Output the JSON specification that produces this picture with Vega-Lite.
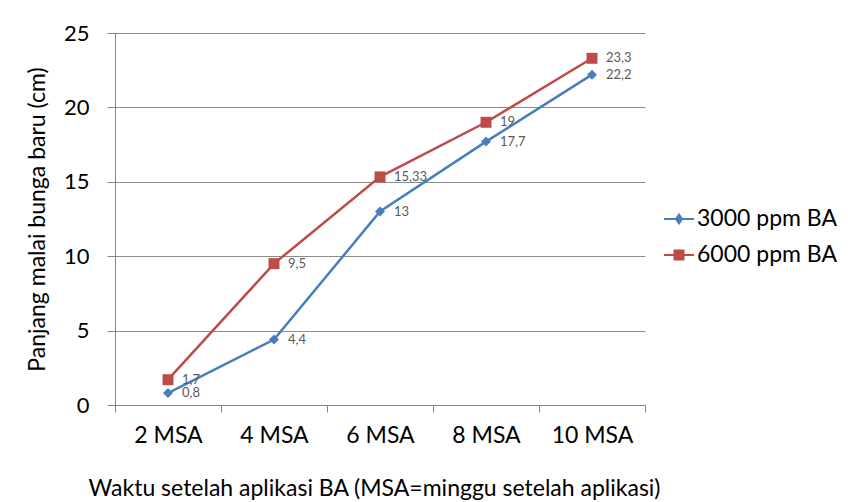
{
  "$schema": "https://vega.github.io/schema/vega-lite/v6.json",
  "width": 530,
  "height": 372,
  "autosize": {"type": "none"},
  "padding": {"left": 115, "top": 33, "right": 203, "bottom": 97},
  "background": "white",
  "config": {
    "view": {"stroke": null},
    "font": "Lato"
  },
  "data": {
    "values": [
      {"waktu": "2 MSA", "series": "3000 ppm BA", "panjang": 0.8, "label": "0,8"},
      {"waktu": "4 MSA", "series": "3000 ppm BA", "panjang": 4.4, "label": "4,4"},
      {"waktu": "6 MSA", "series": "3000 ppm BA", "panjang": 13, "label": "13"},
      {"waktu": "8 MSA", "series": "3000 ppm BA", "panjang": 17.7, "label": "17,7"},
      {"waktu": "10 MSA", "series": "3000 ppm BA", "panjang": 22.2, "label": "22,2"},
      {"waktu": "2 MSA", "series": "6000 ppm BA", "panjang": 1.7, "label": "1,7"},
      {"waktu": "4 MSA", "series": "6000 ppm BA", "panjang": 9.5, "label": "9,5"},
      {"waktu": "6 MSA", "series": "6000 ppm BA", "panjang": 15.33, "label": "15,33"},
      {"waktu": "8 MSA", "series": "6000 ppm BA", "panjang": 19, "label": "19"},
      {"waktu": "10 MSA", "series": "6000 ppm BA", "panjang": 23.3, "label": "23,3"}
    ]
  },
  "encoding": {
    "x": {
      "field": "waktu",
      "type": "nominal",
      "sort": ["2 MSA", "4 MSA", "6 MSA", "8 MSA", "10 MSA"],
      "scale": {"type": "band", "paddingInner": 0, "paddingOuter": 0},
      "axis": {
        "title": "Waktu setelah aplikasi BA (MSA=minggu setelah aplikasi)",
        "titleFontSize": 23,
        "titleFontWeight": "normal",
        "titleColor": "#000000",
        "titlePadding": 30,
        "titleX": 259,
        "labelAngle": 0,
        "labelFontSize": 23,
        "labelColor": "#000000",
        "labelPadding": 12,
        "tickBand": "extent",
        "tickSize": 7,
        "tickColor": "#868686",
        "domainColor": "#868686",
        "grid": false
      }
    },
    "y": {
      "field": "panjang",
      "type": "quantitative",
      "scale": {"domain": [0, 25], "nice": false},
      "axis": {
        "title": "Panjang malai bunga baru (cm)",
        "titleFontSize": 23,
        "titleFontWeight": "normal",
        "titleColor": "#000000",
        "titlePadding": 14,
        "values": [0, 5, 10, 15, 20, 25],
        "labelFontSize": 22,
        "labelColor": "#000000",
        "labelPadding": 18,
        "tickSize": 8,
        "tickColor": "#868686",
        "domainColor": "#868686",
        "grid": true,
        "gridColor": "#8c8c8c",
        "gridWidth": 1
      }
    },
    "color": {
      "field": "series",
      "type": "nominal",
      "scale": {"domain": ["3000 ppm BA", "6000 ppm BA"], "range": ["#4A7EBB", "#BE4B48"]},
      "legend": {
        "title": null,
        "orient": "none",
        "legendX": 548,
        "legendY": 170,
        "labelFontSize": 23,
        "labelColor": "#000000",
        "labelOffset": 2,
        "rowPadding": 8,
        "symbolSize": 900,
        "symbolType": "M-1,0L1,0",
        "encode": {
          "symbols": {
            "update": {
              "shape": {"signal": "datum.value === '3000 ppm BA' ? 'M-1,0L1,0M0,-0.3L0.2,0L0,0.3L-0.2,0Z' : 'M-1,0L1,0M-0.3,-0.3L0.3,-0.3L0.3,0.3L-0.3,0.3Z'"},
              "stroke": {"signal": "datum.value === '3000 ppm BA' ? '#4A7EBB' : '#BE4B48'"},
              "fill": {"signal": "datum.value === '3000 ppm BA' ? '#4A7EBB' : '#BE4B48'"},
              "strokeWidth": {"value": 2},
              "opacity": {"value": 1}
            }
          }
        }
      }
    }
  },
  "layer": [
    {
      "mark": {"type": "line", "strokeWidth": 2.5}
    },
    {
      "transform": [{"filter": "datum.series === '3000 ppm BA'"}],
      "mark": {"type": "point", "shape": "diamond", "filled": true, "opacity": 1, "size": 100}
    },
    {
      "transform": [{"filter": "datum.series === '6000 ppm BA'"}],
      "mark": {"type": "point", "shape": "square", "filled": true, "opacity": 1, "size": 120}
    },
    {
      "mark": {"type": "text", "align": "left", "baseline": "middle", "dx": 14, "fontSize": 13},
      "encoding": {
        "text": {"field": "label", "type": "nominal"},
        "color": {"value": "#595959"}
      }
    }
  ]
}
